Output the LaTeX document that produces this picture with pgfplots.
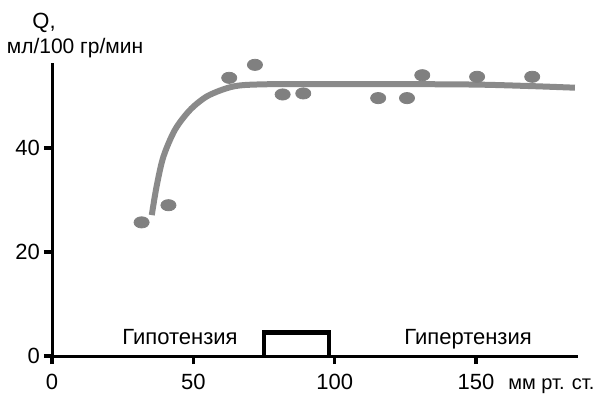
\documentclass[border=0pt]{standalone}
\usepackage{pgfplots}
\pgfplotsset{compat=1.18}
\usepackage{fontspec}
\setmainfont{Liberation Sans}

\definecolor{curvegray}{HTML}{8A8A8A}
\definecolor{dotgray}{HTML}{808080}

\begin{document}
\begin{tikzpicture}
\begin{axis}[
  scale only axis,
  width=263pt, height=146.5pt,
  xmin=0, xmax=186.1,
  ymin=0, ymax=56.35,
  axis lines=left,
  axis line style={-, line width=1.5pt, black},
  tick align=outside,
  major tick length=4pt,
  every tick/.style={black, line width=1.6pt},
  xtick={0,50,100,150},
  xticklabels={0,50,100,{150\rlap{\hspace{7pt}\fontsize{10}{12}\selectfont мм рт. ст.}}},
  ytick={0,20,40},
  yticklabels={0,20,40},
  font=\fontsize{11}{13}\selectfont,
  xticklabel style={yshift=-1.5pt},
  yticklabel style={xshift=1.5pt},
  clip=false,
]
% autoregulation curve
\addplot[curvegray, line width=3pt, smooth, tension=0.5] coordinates {
  (35.3,27.1) (37.0,32.6) (39.4,38.3) (43.5,43.5) (48.8,47.3)
  (54.7,49.9) (61.8,51.5) (67.7,52.1) (80,52.3) (95,52.3)
  (120,52.3) (150,52.2) (170,51.9) (185,51.6)
};
% measured values
\addplot[only marks, mark=*, mark size=2.8pt,
  mark options={dotgray, draw=dotgray, fill=dotgray, xscale=1.35}] coordinates {
  (31.7,25.7) (41.2,29.0) (62.7,53.5) (71.8,56.0) (81.6,50.3)
  (88.9,50.5) (115.4,49.6) (125.6,49.6) (131.0,54.0) (150.4,53.7)
  (169.9,53.7)
};
% normal pressure range
\addplot[black, line width=2.2pt, line join=miter] coordinates {
  (75.1,0) (75.1,4.5) (98.1,4.5) (98.1,0)
};
\node[anchor=base] at (axis cs:45.3,2.2) {Гипотензия};
\node[anchor=base] at (axis cs:147.2,2.2) {Гипертензия};
\node[anchor=base west, inner sep=0pt] at (rel axis cs:-0.038,1.119) {Q,};
\node[anchor=base, font=\fontsize{10.5}{12}\selectfont] at (rel axis cs:0.0437,1.034) {мл/100 гр/мин};
\coordinate (bl) at (rel axis cs:-0.09886,-0.12628);
\coordinate (tr) at (rel axis cs:1.04183,1.21502);
\end{axis}
\pgfresetboundingbox
\useasboundingbox (bl) rectangle (tr);
\end{tikzpicture}
\end{document}
